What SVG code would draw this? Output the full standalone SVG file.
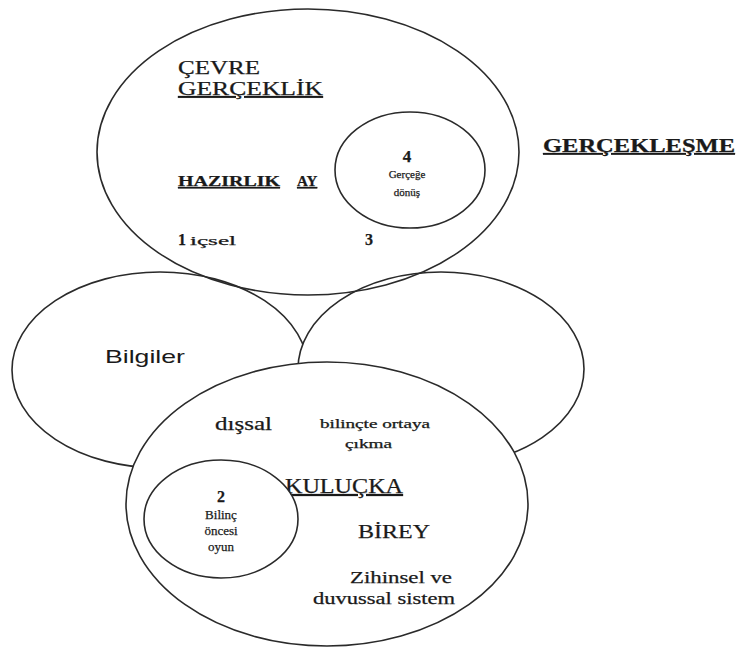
<svg xmlns="http://www.w3.org/2000/svg" width="740" height="650" viewBox="0 0 740 650">
<style>
.sh{fill:none;stroke:#2a2a2a;stroke-width:1.6}
.wf{fill:#fff;stroke:#2a2a2a;stroke-width:1.6}
.s{font-family:"Liberation Serif","Times New Roman",serif;fill:#1a1a1a;stroke:#1a1a1a;stroke-width:0.25}
.b{font-weight:bold}
.a{font-family:"Liberation Sans",Arial,sans-serif;fill:#1a1a1a}
.u{text-decoration:underline}
.m{text-anchor:middle}
</style>
<rect width="740" height="650" fill="#fff"/>
<g id="bilgiler">
<ellipse class="wf" cx="160" cy="370" rx="148" ry="98"/>
<text class="a" x="105" y="363" font-size="19" textLength="80" lengthAdjust="spacingAndGlyphs">Bilgiler</text>
</g>
<g id="sag">
<ellipse class="wf" cx="441" cy="369" rx="143" ry="97"/>
</g>
<g id="cevre">
<ellipse class="sh" cx="308" cy="152" rx="211" ry="143"/>
<text class="s" x="178" y="74" font-size="19" textLength="82" lengthAdjust="spacingAndGlyphs">ÇEVRE</text>
<text class="s u" x="178" y="95" font-size="19" textLength="145" lengthAdjust="spacingAndGlyphs">GERÇEKLİK</text>
<text class="s b u" x="178" y="186" font-size="15" textLength="102" lengthAdjust="spacingAndGlyphs">HAZIRLIK</text>
<text class="s b u" x="297" y="186" font-size="15">AY</text>
<text class="s b" x="178" y="245" font-size="16">1</text>
<text class="s" x="190" y="245" font-size="13" textLength="46" lengthAdjust="spacingAndGlyphs">içsel</text>
<text class="s b" x="365" y="245" font-size="16">3</text>
</g>
<g id="gerceklesme">
<text class="s b u" x="543" y="152" font-size="18" textLength="192" lengthAdjust="spacingAndGlyphs">GERÇEKLEŞME</text>
</g>
<g id="birey">
<ellipse class="wf" cx="327" cy="504" rx="201" ry="142"/>
<text class="s" x="215" y="430" font-size="19" textLength="57" lengthAdjust="spacingAndGlyphs">dışsal</text>
<text class="s" x="320" y="428" font-size="11.5" textLength="110" lengthAdjust="spacingAndGlyphs">bilinçte ortaya</text>
<text class="s" x="345" y="448" font-size="11.5" textLength="47" lengthAdjust="spacingAndGlyphs">çıkma</text>
<text class="s u" x="285" y="493" font-size="20" textLength="118" lengthAdjust="spacingAndGlyphs">KULUÇKA</text>
<text class="s" x="358" y="538" font-size="19" textLength="72" lengthAdjust="spacingAndGlyphs">BİREY</text>
<text class="s" x="350" y="583" font-size="16" textLength="102" lengthAdjust="spacingAndGlyphs">Zihinsel ve</text>
<text class="s" x="313" y="604" font-size="16" textLength="142" lengthAdjust="spacingAndGlyphs">duvussal sistem</text>
</g>
<g id="kulucka-oyun">
<ellipse class="wf" cx="221" cy="519" rx="77" ry="59"/>
<text class="s b m" x="221" y="502" font-size="16">2</text>
<text class="s m" x="221" y="519" font-size="13">Bilinç</text>
<text class="s m" x="221" y="535" font-size="13">öncesi</text>
<text class="s m" x="221" y="551" font-size="13">oyun</text>
</g>
<g id="gercege-donus">
<ellipse class="wf" cx="410" cy="170" rx="75" ry="58"/>
<text class="s b m" x="407" y="162" font-size="17">4</text>
<text class="s m" x="407" y="178" font-size="11">Gerçeğe</text>
<text class="s m" x="407" y="196" font-size="11">dönüş</text>
</g>
<g id="connectors"></g>
</svg>
